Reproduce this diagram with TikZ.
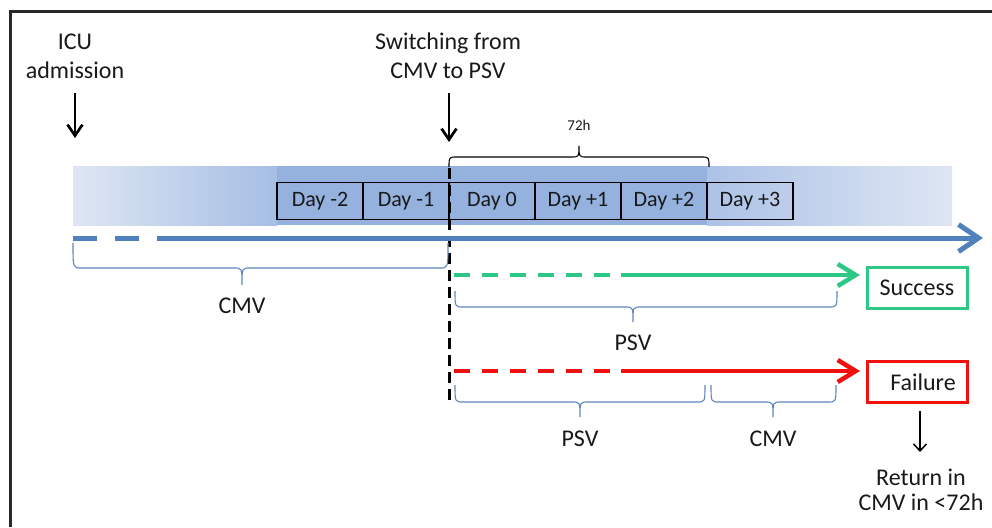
\documentclass[tikz,border=0pt]{standalone}
\usepackage{fontspec}
\setmainfont{Carlito}
\usetikzlibrary{arrows.meta}
\definecolor{axisblue}{RGB}{79,129,189}
\definecolor{bandmid}{RGB}{149,177,222}
\definecolor{bandlight}{RGB}{222,230,243}
\definecolor{bandleft}{RGB}{165,190,228}
\definecolor{bandright}{RGB}{172,194,231}
\definecolor{okgreen}{RGB}{46,200,134}
\definecolor{badred}{RGB}{240,16,16}
\definecolor{bracecol}{RGB}{95,135,190}
\definecolor{framegray}{RGB}{40,40,40}
\definecolor{txt}{RGB}{25,25,25}
\newcommand{\curlybrace}[7]{%
  \draw[#1] (#2,#5) .. controls (#2,#6) .. ({#2+8},#6) -- ({#4-8},#6)
    .. controls (#4,#6) .. (#4,#7) .. controls (#4,#6) .. ({#4+8},#6)
    -- ({#3-8},#6) .. controls (#3,#6) .. (#3,#5);}
\begin{document}
\begin{tikzpicture}[x=1pt,y=-1pt,
  font=\fontsize{24}{29}\selectfont, text=txt,
  lbl/.style={anchor=base, inner sep=0pt},
  daybox/.style={draw=black, line width=1.1pt, minimum width=86pt, minimum height=37pt,
    inner sep=0pt, font=\fontsize{22}{26}\selectfont},
  resbox/.style={line width=3pt, minimum width=100pt, minimum height=41pt, inner sep=0pt},
  downarrow/.style={black, line width=2.7pt, -{Straight Barb[length=11pt,width=15pt]}},
  thinarrow/.style={black, line width=1.5pt, -{Straight Barb[length=7pt,width=13pt]}},
  bracestyle/.style={bracecol, line width=1.1pt},
  blackbrace/.style={black, line width=1.1pt},
  vdash/.style={black, line width=3pt, dash pattern=on 11pt off 6pt}]
\useasboundingbox (0,0) rectangle (992,527);
\fill[white] (0,0) rectangle (992,527);
\draw[framegray, line width=3pt] (10,527) -- (10,12) -- (992,12);

% band
\shade[left color=bandlight, right color=bandleft] (73,166) rectangle (277,225);
\fill[bandmid] (277,166) rectangle (707,225);
\shade[left color=bandright, right color=bandlight] (707,166) rectangle (952,225);

% day boxes
\node[daybox] (dm2) at (320,201) {Day -2};
\node[daybox] (dm1) at (406,201) {Day -1};
\node[daybox] (d0)  at (492,201) {Day 0};
\node[daybox] (dp1) at (578,201) {Day +1};
\node[daybox] (dp2) at (664,201) {Day +2};
\node[daybox] (dp3) at (750,201) {Day +3};

% top labels
\node[lbl] (icu1) at (75,50) {ICU};
\node[lbl] (icu2) at (75,78) {admission};
\node[lbl] (sw1) at (448,50) {Switching from};
\node[lbl] (sw2) at (448,78) {CMV to PSV};
\node[lbl, font=\fontsize{15}{18}\selectfont] (h72) at (579,130) {72h};

\coordinate (icuA) at (75,93);  \coordinate (icuB) at (75,138);
\coordinate (swA) at (449,93);  \coordinate (swB) at (449,142);
\draw[downarrow] (icuA) -- (icuB);
\draw[downarrow] (swA) -- (swB);

% switching dashed line
\coordinate (vtop) at (449,168); \coordinate (vbot) at (449,402);
\draw[vdash] (vtop) -- (vbot);

% 72h brace
\curlybrace{blackbrace}{449}{709}{579}{167}{157}{146}

% main axis
\coordinate (axA) at (73,238); \coordinate (axB) at (139,238);
\coordinate (axC) at (157,238); \coordinate (axD) at (983,238);
\draw[axisblue, line width=5pt, dash pattern=on 24pt off 18pt] (axA) -- (axB);
\draw[axisblue, line width=5pt, -{Straight Barb[length=20pt,width=27pt]}] (axC) -- (axD);

% CMV brace
\curlybrace{bracestyle}{73}{448}{242}{243}{268}{285}
\node[lbl] (cmv1) at (242,313) {CMV};

% result boxes
\node[resbox, draw=okgreen] (succ) at (917,287.5) {Success};
\node[resbox, draw=badred] (fail) at (917,382) {\hspace*{12pt}Failure};

% green arrow
\coordinate (gA) at (454,275); \coordinate (gB) at (610,275);
\coordinate (gC) at (621,275); \coordinate (gD) at (860,275);
\draw[okgreen, line width=4.5pt, dash pattern=on 16pt off 12pt] (gA) -- (gB);
\draw[okgreen, line width=4.5pt, -{Straight Barb[length=18pt,width=22pt]}] (gC) -- (gD);

\curlybrace{bracestyle}{455}{837}{633}{291}{307}{322}
\node[lbl] (psv1) at (633,350) {PSV};

% red arrow
\coordinate (rA) at (454,371); \coordinate (rB) at (610,371);
\coordinate (rC) at (621,371); \coordinate (rD) at (860,371);
\draw[badred, line width=4.5pt, dash pattern=on 16pt off 12pt] (rA) -- (rB);
\draw[badred, line width=4.5pt, -{Straight Barb[length=18pt,width=22pt]}] (rC) -- (rD);

\curlybrace{bracestyle}{455}{705}{580}{385}{402}{417}
\curlybrace{bracestyle}{711}{836}{773}{385}{402}{417}
\node[lbl] (psv2) at (580,446) {PSV};
\node[lbl] (cmv2) at (773,446) {CMV};

% failure follow-up
\coordinate (fB) at (920,452);
\draw[thinarrow] ([yshift=-7pt]fail.south -| fB) -- (fB);
\node[lbl] (ret1) at (921,485) {Return in};
\node[lbl] (ret2) at (921,510) {CMV in <72h};
\end{tikzpicture}
\end{document}
